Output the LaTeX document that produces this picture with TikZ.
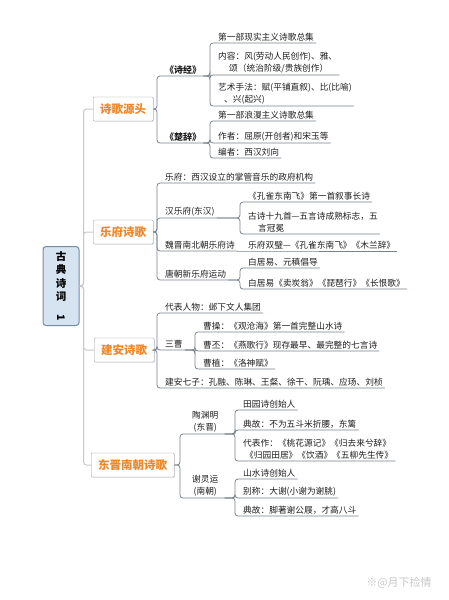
\documentclass[tikz,border=0pt]{standalone}
\usepackage{fontspec}
\usepackage{graphicx}
\newfontfamily\cjk{Noto Sans CJK SC}
\usetikzlibrary{shadows}
\begin{document}
\begin{tikzpicture}[x=1pt,y=-1pt]
\newcommand{\xsc}{1}
\newcommand{\ysc}{1}
\definecolor{rootfill}{RGB}{214,227,241}
\definecolor{rootline}{RGB}{118,138,163}
\definecolor{topictext}{RGB}{238,135,40}
\definecolor{topicline}{RGB}{150,150,150}
\definecolor{linkcolor}{RGB}{120,130,142}
\definecolor{trunkcolor}{RGB}{200,200,200}
\definecolor{inkcolor}{RGB}{30,30,30}
\tikzstyle{root}=[draw=rootline,fill=rootfill,line width=1pt,rounded corners=3pt,minimum width=36pt,minimum height=79pt,align=center,font=\cjk\fontsize{10.5}{13.5}\selectfont\bfseries,text=black]
\tikzstyle{topic}=[draw=topicline,fill=white,anchor=west,inner xsep=7pt,minimum height=24pt,rounded corners=1pt,drop shadow={opacity=0.2,shadow xshift=0.8pt,shadow yshift=-0.8pt},font=\cjk\fontsize{11.5}{13}\selectfont\bfseries,text=topictext]
\tikzstyle{leaf}=[anchor=south west,inner xsep=2pt,inner ysep=1.5pt,align=left,font=\cjk\fontsize{8.7}{12}\selectfont,text=inkcolor,execute at begin node=\hspace*{6pt}]
\tikzstyle{branch}=[leaf,font=\cjk\fontsize{9}{12}\selectfont\bfseries]
\tikzstyle{poet}=[leaf,align=center,inner xsep=6pt,execute at begin node=]
\tikzstyle{link}=[draw=linkcolor,line width=0.8pt,rounded corners=3pt]
\tikzstyle{trunk}=[draw=trunkcolor,line width=1pt,rounded corners=3pt]
\tikzstyle{watermark}=[font=\cjk\fontsize{11}{13}\selectfont,text=black!22]
\useasboundingbox (0,0) rectangle (449,600);
% root and topics
\node[root] (gd) at (\xsc*61,\ysc*286) {古\\典\\诗\\词\\\rotatebox{-90}{1}};
\node[topic] (src) at (\xsc*93,\ysc*109) {诗歌源头};
\node[topic] (yf) at (\xsc*93,\ysc*232) {乐府诗歌};
\node[topic] (ja) at (\xsc*94,\ysc*350) {建安诗歌};
\node[topic] (dj) at (\xsc*91,\ysc*465) {东晋南朝诗歌};
% 诗歌源头
\node[branch] (sj) at (\xsc*157,\ysc*76) {《诗经》};
\node[branch] (cc) at (\xsc*157,\ysc*143) {《楚辞》};
\node[leaf] (sj1) at (\xsc*210,\ysc*43) {第一部现实主义诗歌总集};
\node[leaf] (sj2) at (\xsc*210,\ysc*75) {内容：风(劳动人民创作)、雅、\\\hspace*{11pt}颂（统治阶级/贵族创作）};
\node[leaf] (sj3) at (\xsc*210,\ysc*106) {艺术手法：赋(平铺直叙)、比(比喻)\\\hspace*{6pt}、兴(起兴)};
\node[leaf] (cc1) at (\xsc*210,\ysc*121) {第一部浪漫主义诗歌总集};
\node[leaf] (cc2) at (\xsc*210,\ysc*143) {作者：屈原(开创者)和宋玉等};
\node[leaf] (cc3) at (\xsc*210,\ysc*158) {编者：西汉刘向};
% 乐府诗歌
\node[leaf] (yf1) at (\xsc*157,\ysc*183) {乐府：西汉设立的掌管音乐的政府机构};
\node[leaf] (yf2) at (\xsc*157,\ysc*218) {汉乐府(东汉)};
\node[leaf] (yf3) at (\xsc*157,\ysc*251) {魏晋南北朝乐府诗};
\node[leaf] (yf4) at (\xsc*157,\ysc*280) {唐朝新乐府运动};
\node[leaf] (yf21) at (\xsc*240,\ysc*202) {《孔雀东南飞》第一首叙事长诗};
\node[leaf] (yf22) at (\xsc*240,\ysc*234) {古诗十九首—五言诗成熟标志，五\\\hspace*{10pt}言冠冕};
\node[leaf] (yf31) at (\xsc*240,\ysc*251) {乐府双璧—《孔雀东南飞》《木兰辞》};
\node[leaf] (yf41) at (\xsc*240,\ysc*268) {白居易、元稹倡导};
\node[leaf] (yf42) at (\xsc*240,\ysc*289) {白居易《卖炭翁》《琵琶行》《长恨歌》};
% 建安诗歌
\node[leaf] (ja1) at (\xsc*157,\ysc*313) {代表人物：邺下文人集团};
\node[leaf] (ja2) at (\xsc*157,\ysc*350) {三曹};
\node[leaf] (ja3) at (\xsc*157,\ysc*388) {建安七子：孔融、陈琳、王粲、徐干、阮瑀、应玚、刘桢};
\node[leaf] (ja21) at (\xsc*195,\ysc*332) {曹操：《观沧海》第一首完整山水诗};
\node[leaf] (ja22) at (\xsc*195,\ysc*351) {曹丕：《燕歌行》现存最早、最完整的七言诗};
\node[leaf] (ja23) at (\xsc*195,\ysc*369) {曹植：《洛神赋》};
% 东晋南朝诗歌
\node[poet] (dj1) at (\xsc*180,\ysc*434) {陶渊明\\(东晋)};
\node[poet] (dj2) at (\xsc*180,\ysc*498) {谢灵运\\(南朝)};
\node[leaf] (dj11) at (\xsc*235,\ysc*410) {田园诗创始人};
\node[leaf] (dj12) at (\xsc*235,\ysc*430) {典故：不为五斗米折腰，东篱};
\node[leaf] (dj13) at (\xsc*235,\ysc*461) {代表作：《桃花源记》《归去来兮辞》\\\hspace*{2pt}《归园田居》《饮酒》《五柳先生传》};
\node[leaf] (dj21) at (\xsc*235,\ysc*479) {山水诗创始人};
\node[leaf] (dj22) at (\xsc*235,\ysc*498) {别称：大谢(小谢为谢朓)};
\node[leaf] (dj23) at (\xsc*235,\ysc*516) {典故：脚著谢公屐，才高八斗};
\node[watermark] (wm) at (\xsc*399,\ysc*583) {※@月下捡情};
% trunk
\draw[trunk] (gd.east) -- ++(4,0) |- (src.west);
\draw[trunk] (gd.east) -- ++(4,0) |- (yf.west);
\draw[trunk] (gd.east) -- ++(4,0) |- (ja.west);
\draw[trunk] (gd.east) -- ++(4,0) |- (dj.west);
% links
\draw[link] (src.east) -| (sj.south west) -- (sj.south east);
\draw[link] (src.east) -| (cc.south west) -- (cc.south east);
\draw[link] (sj.south east) -| (sj1.south west) -- (sj1.south east);
\draw[link] (sj.south east) -| (sj2.south west) -- (sj2.south east);
\draw[link] (sj.south east) -| (sj3.south west) -- (sj3.south east);
\draw[link] (cc.south east) -| (cc1.south west) -- (cc1.south east);
\draw[link] (cc.south east) -| (cc2.south west) -- (cc2.south east);
\draw[link] (cc.south east) -| (cc3.south west) -- (cc3.south east);
\draw[link] (yf.east) -| (yf1.south west) -- (yf1.south east);
\draw[link] (yf.east) -| (yf2.south west) -- (yf2.south east);
\draw[link] (yf.east) -| (yf3.south west) -- (yf3.south east);
\draw[link] (yf.east) -| (yf4.south west) -- (yf4.south east);
\draw[link] (yf2.south east) -| (yf21.south west) -- (yf21.south east);
\draw[link] (yf2.south east) -| (yf22.south west) -- (yf22.south east);
\draw[link] (yf3.south east) -- (yf31.south west) -- (yf31.south east);
\draw[link] (yf4.south east) -| (yf41.south west) -- (yf41.south east);
\draw[link] (yf4.south east) -| (yf42.south west) -- (yf42.south east);
\draw[link] (ja.east) -| (ja1.south west) -- (ja1.south east);
\draw[link] (ja.east) -| (ja2.south west) -- (ja2.south east);
\draw[link] (ja.east) -| (ja3.south west) -- (ja3.south east);
\draw[link] (ja2.south east) -| (ja21.south west) -- (ja21.south east);
\draw[link] (ja2.south east) -| (ja22.south west) -- (ja22.south east);
\draw[link] (ja2.south east) -| (ja23.south west) -- (ja23.south east);
\draw[link] (dj.east) -| (dj1.south west) -- (dj1.south east);
\draw[link] (dj.east) -| (dj2.south west) -- (dj2.south east);
\draw[link] (dj1.south east) -| (dj11.south west) -- (dj11.south east);
\draw[link] (dj1.south east) -| (dj12.south west) -- (dj12.south east);
\draw[link] (dj1.south east) -| (dj13.south west) -- (dj13.south east);
\draw[link] (dj2.south east) -| (dj21.south west) -- (dj21.south east);
\draw[link] (dj2.south east) -| (dj22.south west) -- (dj22.south east);
\draw[link] (dj2.south east) -| (dj23.south west) -- (dj23.south east);
\end{tikzpicture}
\end{document}
